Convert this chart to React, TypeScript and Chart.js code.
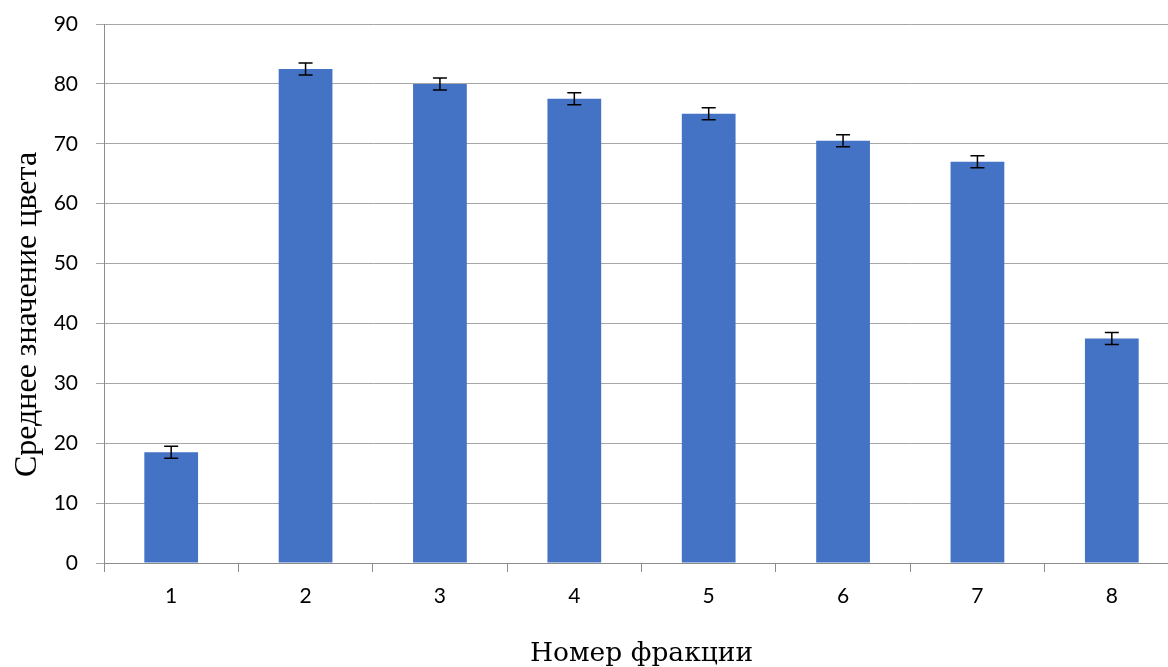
import React, { useEffect, useRef } from "react";
import { Chart, registerables } from "chart.js";

Chart.register(...registerables);

const categories = ["1", "2", "3", "4", "5", "6", "7", "8"];
const meanValues = [18.5, 82.5, 80, 77.5, 75, 70.5, 67, 37.5];
const errorValues = [1, 1, 1, 1, 1, 1, 1, 1];
const yTicks = [0, 10, 20, 30, 40, 50, 60, 70, 80, 90];
const xTitle = "Номер фракции";
const yTitle = "Среднее значение цвета";

const errorBarPlugin = {
  id: "errorBars",
  afterDatasetsDraw(chart: any) {
    const ctx = chart.ctx;
    const xs = chart.scales.x;
    const ys = chart.scales.y;
    ctx.save();
    ctx.strokeStyle = "#000000";
    ctx.lineWidth = 1.5;
    meanValues.forEach((v, i) => {
      const x = xs.getPixelForValue(i);
      const yTop = ys.getPixelForValue(v + errorValues[i]);
      const yBot = ys.getPixelForValue(v - errorValues[i]);
      const cap = 7;
      ctx.beginPath();
      ctx.moveTo(x, yTop);
      ctx.lineTo(x, yBot);
      ctx.moveTo(x - cap, yTop);
      ctx.lineTo(x + cap, yTop);
      ctx.moveTo(x - cap, yBot);
      ctx.lineTo(x + cap, yBot);
      ctx.stroke();
    });
    ctx.restore();
  },
};

const yTitlePlugin = {
  id: "yTitleText",
  afterDraw(chart: any) {
    const ctx = chart.ctx;
    const area = chart.chartArea;
    ctx.save();
    ctx.translate(28, (area.top + area.bottom) / 2 + 21);
    ctx.rotate(-Math.PI / 2);
    ctx.font = "32px 'Liberation Serif', serif";
    ctx.fillStyle = "#000000";
    ctx.textAlign = "center";
    ctx.textBaseline = "middle";
    ctx.fillText(yTitle, 0, 0);
    ctx.restore();
  },
};

export default function App() {
  const ref = useRef<HTMLCanvasElement | null>(null);
  useEffect(() => {
    document.body.style.margin = "0";
    document.body.style.overflow = "hidden";
    const chart = new Chart(ref.current as HTMLCanvasElement, {
      type: "bar",
      data: {
        labels: categories,
        datasets: [
          {
            data: meanValues,
            backgroundColor: "#4472C4",
            borderWidth: 0,
            categoryPercentage: 1,
            barPercentage: 0.4,
          },
        ],
      },
      options: {
        animation: false,
        responsive: false,
        devicePixelRatio: 1,
        layout: { padding: { top: 24, right: 1, left: 0, bottom: 0 } },
        plugins: {
          legend: { display: false },
          tooltip: { enabled: false },
        },
        scales: {
          x: {
            offset: true,
            grid: {
              offset: true,
              drawOnChartArea: false,
              drawTicks: true,
              tickLength: 9,
              color: "#8c8c8c",
            },
            border: { color: "#8c8c8c", width: 1 },
            ticks: {
              color: "#000000",
              padding: 12,
              font: { family: "Lato, 'Open Sans', sans-serif", size: 21 },
            },
            title: {
              display: true,
              text: xTitle,
              color: "#000000",
              padding: { top: 0, bottom: 0 },
              font: { family: "'DejaVu Serif', serif", size: 26.5, lineHeight: 1 },
            },
            afterFit(scale: any) {
              scale.height = 104;
              scale.paddingLeft = 0;
              scale.paddingRight = 0;
            },
          },
          y: {
            min: 0,
            max: 90,
            afterBuildTicks(scale: any) {
              scale.ticks = yTicks.map((v) => ({ value: v }));
            },
            grid: {
              color: "#a6a6a6",
              lineWidth: 1,
              drawTicks: true,
              tickLength: 8,
            },
            border: { color: "#8c8c8c", width: 1 },
            ticks: {
              color: "#000000",
              padding: 18,
              font: { family: "Lato, 'Open Sans', sans-serif", size: 21 },
            },
            title: { display: false },
            afterFit(scale: any) {
              scale.width = 104;
              scale.paddingTop = 0;
              scale.paddingBottom = 0;
            },
          },
        },
      },
      plugins: [errorBarPlugin, yTitlePlugin],
    });
    return () => chart.destroy();
  }, []);
  return (
    <div
      style={{
        position: "fixed",
        left: 0,
        top: 0,
        width: 1168,
        height: 667,
        overflow: "hidden",
        background: "#ffffff",
      }}
    >
      <canvas ref={ref} width={1180} height={667} style={{ display: "block" }} />
    </div>
  );
}
